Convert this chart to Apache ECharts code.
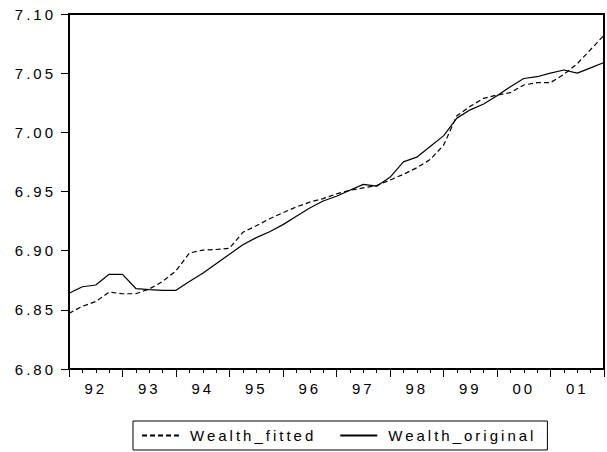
<!DOCTYPE html>
<html>
<head>
<meta charset="utf-8">
<script src="https://cdn.jsdelivr.net/npm/echarts@6/dist/echarts.min.js"></script>
<style>
  html, body { margin: 0; padding: 0; background: #fff; }
  #main { width: 607px; height: 452px; }
  #main text { letter-spacing: 3px; }
</style>
</head>
<body>
<div id="main"></div>
<script>
// Quarterly observations, 1992Q1 .. 2002Q1
const quarters = [
  '1992Q1','1992Q2','1992Q3','1992Q4','1993Q1','1993Q2','1993Q3','1993Q4',
  '1994Q1','1994Q2','1994Q3','1994Q4','1995Q1','1995Q2','1995Q3','1995Q4',
  '1996Q1','1996Q2','1996Q3','1996Q4','1997Q1','1997Q2','1997Q3','1997Q4',
  '1998Q1','1998Q2','1998Q3','1998Q4','1999Q1','1999Q2','1999Q3','1999Q4',
  '2000Q1','2000Q2','2000Q3','2000Q4','2001Q1','2001Q2','2001Q3','2001Q4',
  '2002Q1'
];
const wealthFitted = [
  6.847, 6.853, 6.857, 6.865, 6.8636, 6.8636, 6.8676, 6.874,
  6.883, 6.898, 6.9005, 6.901, 6.902, 6.9155, 6.921, 6.927,
  6.932, 6.937, 6.941, 6.944, 6.948, 6.951, 6.953, 6.955,
  6.9597, 6.9645, 6.970, 6.977, 6.989, 7.014, 7.022, 7.0287,
  7.0315, 7.0335, 7.040, 7.042, 7.042, 7.049, 7.058, 7.070,
  7.082
];
const wealthOriginal = [
  6.864, 6.8695, 6.871, 6.880, 6.880, 6.868, 6.867, 6.8665,
  6.8665, 6.874, 6.881, 6.889, 6.897, 6.905, 6.911, 6.916,
  6.922, 6.929, 6.936, 6.942, 6.946, 6.951, 6.956, 6.9545,
  6.962, 6.975, 6.979, 6.988, 6.997, 7.012, 7.019, 7.024,
  7.031, 7.0385, 7.0455, 7.047, 7.050, 7.0527, 7.050, 7.0545,
  7.059
];
const yearLabels = ['92','93','94','95','96','97','98','99','00','01'];
const seriesNames = ['Wealth_fitted', 'Wealth_original'];

const FONT = "'Liberation Sans', Arial, sans-serif";
const toPairs = arr => arr.map((v, i) => [i, v]);
const xMax = quarters.length - 1;

const chart = echarts.init(document.getElementById('main'), null, { renderer: 'svg' });

const baseX = {
  type: 'value', min: 0, max: xMax, position: 'bottom',
  splitLine: { show: false }
};

chart.setOption({
  animation: false,
  backgroundColor: '#fff',
  grid: {
    left: 69, top: 14, bottom: 83, right: -6,
    show: true, borderColor: '#000', borderWidth: 2, backgroundColor: 'transparent'
  },
  legend: {
    left: 133, top: 421,
    padding: [7, 56, 7, 8],
    borderColor: '#000', borderWidth: 1,
    itemWidth: 37, itemHeight: 14, itemGap: 62,
    itemStyle: { opacity: 0 },
    textStyle: { fontFamily: FONT, fontSize: 15, color: '#000', padding: [0, 0, 0, 6] },
    data: seriesNames
  },
  xAxis: [
    Object.assign({}, baseX, {
      interval: 4,
      axisLine: { show: true, lineStyle: { color: '#000', width: 2 } },
      axisTick: { show: true, length: 8, lineStyle: { color: '#000', width: 1 } },
      axisLabel: { show: false }
    }),
    Object.assign({}, baseX, {
      interval: 1,
      axisLine: { show: false },
      axisTick: { show: true, length: 4, lineStyle: { color: '#000', width: 1 } },
      axisLabel: { show: false }
    }),
    Object.assign({}, baseX, {
      interval: 2,
      axisLine: { show: false },
      axisTick: { show: false },
      axisLabel: {
        show: true, margin: 12, color: '#000', fontFamily: FONT, fontSize: 15,
        formatter: v => (Math.round(v) % 4 === 2) ? (yearLabels[(Math.round(v) - 2) / 4] || '') : ''
      }
    })
  ],
  yAxis: {
    type: 'value', min: 6.8, max: 7.1, interval: 0.05,
    axisLine: { show: true, lineStyle: { color: '#000', width: 2 } },
    axisTick: { show: true, length: 8, lineStyle: { color: '#000', width: 1 } },
    splitLine: { show: false },
    axisLabel: {
      margin: 13, color: '#000', fontFamily: FONT, fontSize: 15,
      formatter: v => v.toFixed(2)
    }
  },
  series: [
    {
      name: seriesNames[0], type: 'line', xAxisIndex: 0,
      data: toPairs(wealthFitted), symbol: 'none',
      lineStyle: { color: '#000', width: 1.2, type: [5, 3] },
      itemStyle: { color: '#000' }
    },
    {
      name: seriesNames[1], type: 'line', xAxisIndex: 0,
      data: toPairs(wealthOriginal), symbol: 'none',
      lineStyle: { color: '#000', width: 1.2, type: 'solid' },
      itemStyle: { color: '#000' }
    }
  ]
});
</script>
</body>
</html>
